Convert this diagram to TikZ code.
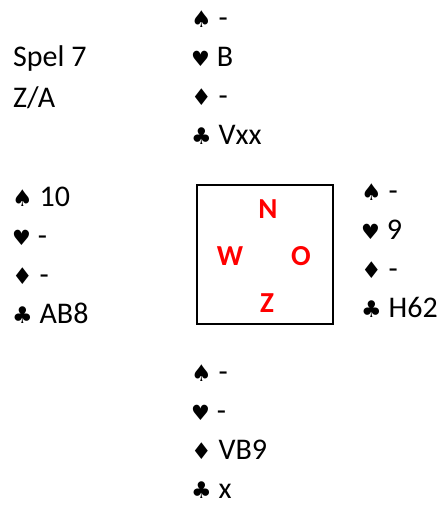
\documentclass[tikz,border=0pt]{standalone}
\usepackage{fontspec}
\setmainfont{Carlito}
\newfontfamily\suitfont{DejaVu Sans}
\usepackage{tikz}
\usetikzlibrary{positioning}
\definecolor{compassred}{RGB}{255,0,0}
\newcommand{\sps}{{\suitfont\fontsize{23}{23}\selectfont ♠}}
\newcommand{\hrt}{{\suitfont\fontsize{21}{21}\selectfont ♥}}
\newcommand{\dia}{{\suitfont\fontsize{23}{23}\selectfont ♦}}
\newcommand{\clb}{{\suitfont\fontsize{23}{23}\selectfont ♣}}
\tikzset{
    hand/.style={anchor=west, inner sep=0pt, align=left, font=\fontsize{30}{39}\selectfont},
    info/.style={anchor=west, inner sep=0pt, align=left, font=\fontsize{30}{41}\selectfont},
    board/.style={rectangle, draw, line width=2pt, minimum width=136pt, minimum height=139pt, inner sep=0pt},
    wind/.style={inner sep=0pt, text=compassred, font=\fontsize{29}{29}\selectfont\bfseries}
}
\begin{document}
\begin{tikzpicture}[x=1pt, y=-1pt]
            \useasboundingbox (0,0) rectangle (438,505);

            % Game info
            \node (spel) [info] at (13,77) {Spel 7\\Z/A};

            % Hands
            \node (north) [hand] at (191,77.5) {\sps\ -\\\hrt\ B\\\dia\ -\\\clb\ Vxx};
            \node (west) [hand] at (12,255) {\sps\ 10\\\hrt\ -\\\dia\ -\\\clb\ AB8};
            \node (east) [hand] at (361,251) {\sps\ -\\\hrt\ 9\\\dia\ -\\\clb\ H62};
            \node (south) [hand] at (191,431.5) {\sps\ -\\\hrt\ -\\\dia\ VB9\\\clb\ x};

            % Board
            \node (tafel) [board] at (265,254) {};
            \node (n) [wind] at (268,209) {N};
            \node (w) [wind] at (230,256) {W};
            \node (o) [wind] at (301,256) {O};
            \node (z) [wind] at (267,303) {Z};

		\end{tikzpicture}
\end{document}
